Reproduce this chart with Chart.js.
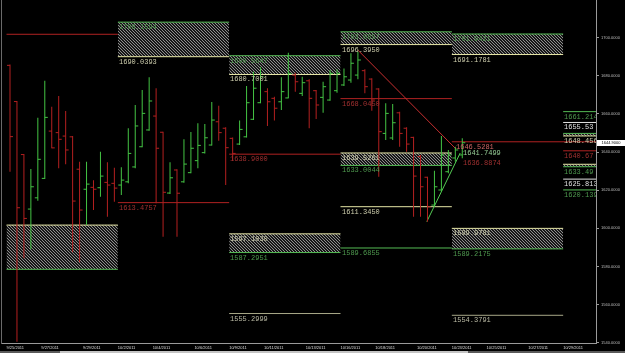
<!DOCTYPE html>
<html><head><meta charset="utf-8">
<script src="https://cdn.jsdelivr.net/npm/chart.js@4/dist/chart.umd.min.js"></script>
<style>
html,body{margin:0;padding:0;background:#000;}
#wrap{width:625px;height:353px;position:relative;overflow:hidden;background:#000}
canvas{display:block}
#scroll{position:absolute;left:0;top:351px;width:625px;height:2px;background:#5a5a5a}
#thumb{position:absolute;left:60px;top:0;width:408px;height:2px;background:#c4c4c4}
</style></head><body>
<div id="wrap"><canvas id="c" width="625" height="351"></canvas><div id="scroll"><div id="thumb"></div></div></div>
<script>
// ---- OHLC bars (one per session block) ----
const opens  = [1685.5,1666.5,1638.7,1610.1,1616.0,1626.2,1651.0,1650.2,1648.4,1648.0,1631.0,1620.5,1621.5,1621.3,1624.1,1623.6,
                1622.7,1624.4,1632.2,1642.8,1651.6,1658.9,1650.4,1618.5,1630.6,1624.4,1629.2,1635.5,1639.7,1643.7,1655.9,1652.5,
                1647.2,1644.2,1648.0,1657.2,1665.9,1671.7,1668.2,1666.4,1668.4,1680.4,1670.8,1677.4,1672.2,1668.7,1667.3,1672.2,
                1675.2,1677.8,1680.4,1682.7,1678.3,1673.1,1649.8,1647.4,1660.6,1652.5,1647.7,1637.6,1626.8,1612.2,1620.1,1629.7,
                1636.9,1638.5];
const highs  = [1686.0,1666.8,1639.0,1631.1,1658.0,1677.4,1663.8,1669.4,1661.5,1648.4,1634.9,1634.9,1625.2,1640.2,1634.6,1631.8,
                1632.0,1652.5,1664.7,1672.6,1679.2,1673.5,1650.7,1634.6,1631.0,1646.7,1650.5,1655.1,1654.7,1666.3,1664.3,1653.0,
                1647.7,1656.5,1674.7,1682.2,1684.5,1673.5,1669.0,1679.2,1692.1,1681.6,1679.5,1678.2,1672.6,1676.9,1683.1,1683.4,
                1683.9,1691.8,1692.7,1683.4,1678.7,1673.5,1665.6,1665.2,1661.2,1653.0,1648.0,1638.5,1627.1,1630.2,1648.4,1641.1,
                1642.8,1647.2];
const lows   = [1629.7,1540.5,1584.3,1589.0,1614.5,1625.9,1642.0,1631.5,1633.6,1587.4,1582.2,1601.7,1609.6,1616.6,1606.1,1613.9,
                1617.5,1623.6,1631.5,1642.5,1651.2,1613.1,1595.6,1618.0,1595.6,1623.9,1628.9,1631.5,1639.3,1643.5,1646.0,1622.7,
                1635.5,1643.7,1647.7,1656.8,1665.6,1653.7,1656.5,1662.1,1668.2,1671.7,1669.4,1652.5,1657.3,1660.6,1666.9,1671.1,
                1674.7,1676.4,1678.2,1670.8,1661.7,1627.1,1646.3,1646.3,1642.8,1640.2,1606.1,1606.1,1603.5,1611.3,1619.2,1628.9,
                1634.9,1636.7];
const closes = [1648.1,1610.8,1605.2,1621.8,1636.2,1658.2,1642.2,1646.7,1641.1,1614.3,1609.6,1623.2,1620.5,1627.4,1622.7,1621.1,
                1625.3,1639.3,1653.7,1660.3,1666.8,1642.0,1618.9,1626.5,1618.4,1633.7,1642.0,1643.5,1647.5,1656.8,1650.2,1642.3,
                1639.3,1651.9,1665.9,1673.5,1679.5,1666.4,1663.0,1671.7,1681.3,1676.9,1676.4,1668.2,1664.7,1674.3,1681.3,1681.3,
                1679.5,1686.6,1688.3,1674.3,1667.3,1650.7,1660.3,1655.4,1649.8,1644.2,1627.4,1621.8,1611.3,1621.8,1638.5,1638.5,
                1641.1,1644.9];

// ---- axes ----
const dateTickPos    = [-0.5,4.5,10.5,15.5,20.5,26.5,31.5,36.5,42.5,47.5,52.5,58.5,63.5,68.5,74.5,79.5];
const dateTickLabels = ['9/25/2011','9/27/2011','9/29/2011','10/2/2011','10/4/2011','10/6/2011','10/9/2011','10/11/2011',
                        '10/13/2011','10/16/2011','10/18/2011','10/20/2011','10/23/2011','10/25/2011','10/27/2011','10/29/2011'];
const yTicks = [1540,1560,1580,1600,1620,1640,1660,1680,1700];
const lastPrice = 1644.9;

// ---- weekly level periods ----
const periodStart = [-0.5,15.5,31.5,47.5,63.5,79.5];
const periodEnd   = [15.5,31.5,47.5,63.5,79.5,95];

// zones: [period, top value, top kind, top label, bottom value, bottom kind, bottom label]
const zones = [
  [0,1601.7,'yellow','',1578.5,'green',''],
  [1,1708.1594,'green','1708.1594',1690.0393,'yellow','1690.0393'],
  [2,1690.5647,'green','1690.5647',1680.7001,'yellow','1680.7001'],
  [2,1597.1030,'yellow','1597.1030',1587.2951,'green','1587.2951'],
  [3,1703.0857,'green','1703.0857',1696.3950,'yellow','1696.3950'],
  [3,1639.5261,'yellow','1639.5261',1633.0044,'green','1633.0044'],
  [4,1701.9421,'green','1701.9421',1691.1781,'yellow','1691.1781'],
  [4,1599.9781,'yellow','1599.9781',1589.2175,'green','1589.2175'],
  [5,1649.8,'green','',1648.456,'yellow','1648.456'],
  [5,1633.6,'yellow','',1632.3,'green','1633.49']
];
// single levels: [period, value, kind, label]
const levels = [
  [0,1701.8,'red',''],
  [1,1613.4757,'red','1613.4757'],
  [2,1638.9000,'red','1638.9000'],
  [2,1555.2999,'olive','1555.2999'],
  [3,1668.0450,'red','1668.0450'],
  [3,1611.3450,'yellow','1611.3450'],
  [3,1589.6855,'green','1589.6855'],
  [4,1554.3791,'olive','1554.3791'],
  [5,1661.214,'green','1661.214'],
  [5,1655.53,'white','1655.53'],
  [5,1640.67,'red','1640.67'],
  [5,1625.813,'white','1625.813'],
  [5,1620.139,'green','1620.139']
];
const priceLine = 1645.4;           // from period 4 start to the axis
const trendDown = [{x:50.0,y:1693.5},{x:64.1,y:1641.6}];
const trendUp   = [{x:59.9,y:1603.5},{x:64.7,y:1639.5}];
const noteLabels = [
  {x:63.9,y:1645.4,text:'1646.5281',kind:'pink'},
  {x:65.0,y:1641.9,text:'1641.7499',kind:'lgreen'},
  {x:65.0,y:1637.1,text:'1636.8874',kind:'red'}
];

// ---- styles ----
const COL  = {green:'#55bb55', yellow:'#e6e6a6', red:'#b02222', olive:'#a8a888', white:'#e4e4e4'};
const LCOL = {green:'#4f9a4f', yellow:'#cfcfae', red:'#a03030', olive:'#bcbca6', white:'#e0e0e0', pink:'#d06666', lgreen:'#98d098'};
const UP = '#44c444', DOWN = '#b42020';

const canvas = document.getElementById('c');
const cctx = canvas.getContext('2d');
function makeHatch(){
  const c = document.createElement('canvas'); c.width = 3; c.height = 3;
  const g = c.getContext('2d');
  g.fillStyle = '#161616'; g.fillRect(0,0,3,3);
  g.fillStyle = '#8e8e8e';
  for (let y=0;y<3;y++){ for(let x=0;x<3;x++){ if ((x - y + 3) % 3 === 0) g.fillRect(x,y,1,1); } }
  return cctx.createPattern(c,'repeat');
}
const hatch = makeHatch();

const datasets = [];
const labelList = [];
zones.forEach(z => {
  const [p,tv,tk,tl,bv,bk,bl] = z;
  datasets.push({type:'line', data:[{x:periodStart[p],y:tv},{x:periodEnd[p],y:tv}], borderColor:COL[tk], borderWidth:1, pointRadius:0, fill:false, order:5});
  datasets.push({type:'line', data:[{x:periodStart[p],y:bv},{x:periodEnd[p],y:bv}], borderColor:COL[bk], borderWidth:1, pointRadius:0, fill:'-1', backgroundColor:hatch, order:5});
  if (tl) labelList.push({x:periodStart[p], y:tv, text:tl, kind:tk});
  if (bl) labelList.push({x:periodStart[p], y:bv, text:bl, kind:bk});
});
levels.forEach(l => {
  const [p,v,k,t] = l;
  datasets.push({type:'line', data:[{x:periodStart[p],y:v},{x:periodEnd[p],y:v}], borderColor:COL[k], borderWidth:1, pointRadius:0, fill:false, order:5});
  if (t) labelList.push({x:periodStart[p], y:v, text:t, kind:k});
});
datasets.push({type:'line', data:[{x:periodStart[4],y:priceLine},{x:periodEnd[5],y:priceLine}], borderColor:COL.red, borderWidth:1, pointRadius:0, fill:false, order:5});
datasets.push({type:'line', data:trendDown, borderColor:'#c83030', borderWidth:1, pointRadius:0, fill:false, order:3});
datasets.push({type:'line', data:trendUp, borderColor:'#55cc55', borderWidth:1, pointRadius:0, fill:false, order:3});

const barColors = closes.map((c,i)=> c >= opens[i] ? UP : DOWN);
datasets.push({type:'bar', data: highs.map((h,i)=>({x:i, y:[lows[i], h]})), backgroundColor:barColors, borderWidth:0,
  barThickness:1, inflateAmount:0, grouped:false, order:0});
const tickOff = 0.2156;
datasets.push({type:'line', showLine:false, data: opens.map((o,i)=>({x:i - tickOff, y:o})), pointStyle:'line', pointRadius:1.5,
  pointBorderWidth:1, pointBorderColor:barColors, pointBackgroundColor:barColors, order:0});
datasets.push({type:'line', showLine:false, data: closes.map((c,i)=>({x:i + tickOff, y:c})), pointStyle:'line', pointRadius:1.5,
  pointBorderWidth:1, pointBorderColor:barColors, pointBackgroundColor:barColors, order:0});

noteLabels.forEach(n => labelList.push(n));

const labelPlugin = {
  id:'levelLabels',
  afterDatasetsDraw(chart){
    const {ctx, chartArea:a, scales:{x, y}} = chart;
    ctx.save();
    ctx.beginPath(); ctx.rect(a.left, a.top, a.right - a.left, a.bottom - a.top); ctx.clip();
    ctx.font = '7px "Liberation Mono", "DejaVu Sans Mono", monospace';
    ctx.textBaseline = 'top'; ctx.textAlign = 'left';
    labelList.forEach(l => {
      ctx.fillStyle = LCOL[l.kind];
      ctx.fillText(l.text, Math.round(x.getPixelForValue(l.x)) + 1, Math.round(y.getPixelForValue(l.y)) + 1.5);
    });
    ctx.restore();
    // last price tag on the axis
    ctx.save();
    const py = y.getPixelForValue(lastPrice);
    ctx.fillStyle = '#ffffff';
    ctx.fillRect(a.right + 1, Math.round(py) - 3, 28, 6);
    ctx.fillStyle = '#000';
    ctx.font = '4px "Liberation Sans", Arial, sans-serif';
    ctx.textBaseline = 'middle'; ctx.textAlign = 'center';
    ctx.fillText(lastPrice.toFixed(4), a.right + 15, Math.round(py));
    ctx.restore();
  }
};

const yMin = 1539.84, yMax = 1719.78;
new Chart(canvas, {
  type:'line',
  data:{datasets},
  options:{
    responsive:false, animation:false, devicePixelRatio:1, events:[],
    layout:{padding:0, autoPadding:false},
    plugins:{legend:{display:false}, tooltip:{enabled:false}},
    scales:{
      x:{type:'linear', min:-1.293, max:84.22, offset:false, bounds:'data',
         afterBuildTicks(s){ s.ticks = dateTickPos.map(v=>({value:v})); },
         ticks:{autoSkip:false, maxRotation:0, minRotation:0, align:'start', color:'#dddddd', padding:2,
                font:{size:4, family:'"Liberation Sans", Arial, sans-serif'}, callback:(v,i)=>dateTickLabels[i]},
         grid:{display:true, drawOnChartArea:false, drawTicks:false},
         border:{display:true, color:'#9a9a9a', width:1},
         afterFit(s){ s.height = 8; s.paddingLeft = 0; s.paddingRight = 0; }},
      y:{type:'linear', position:'right', min:yMin, max:yMax, bounds:'data',
         afterBuildTicks(s){ s.ticks = yTicks.map(v=>({value:v})); },
         ticks:{color:'#bdbdbd', padding:2, font:{size:4, family:'"Liberation Sans", Arial, sans-serif'},
                callback:v=>Number(v).toFixed(4)},
         grid:{display:true, drawOnChartArea:false, color:'#9a9a9a', tickLength:3},
         border:{display:true, color:'#9a9a9a', width:1},
         afterFit(s){ s.width = 29; s.paddingTop = 0; s.paddingBottom = 0; }},
      yl:{type:'linear', position:'left', min:yMin, max:yMax, display:true,
         ticks:{display:false}, grid:{display:false, drawTicks:false},
         border:{display:true, color:'#6a6a6a', width:1},
         afterFit(s){ s.width = 1; s.paddingTop = 0; s.paddingBottom = 0; }}
    }
  },
  plugins:[labelPlugin]
});
</script>
</body></html>
